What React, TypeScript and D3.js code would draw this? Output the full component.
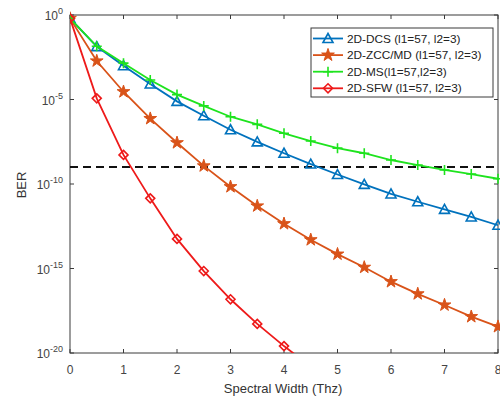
import React from "react";
import * as d3 from "d3";

const xValues = [0, 0.5, 1, 1.5, 2, 2.5, 3, 3.5, 4, 4.5, 5, 5.5, 6, 6.5, 7, 7.5, 8];
// log10(BER) values
const dcsLog = [-0.2, -1.87, -3.0, -4.08, -5.11, -5.96, -6.79, -7.51, -8.18, -8.82, -9.44, -10.02, -10.59, -11.05, -11.5, -11.95, -12.44];
const zccLog = [-0.2, -2.72, -4.54, -6.13, -7.56, -8.93, -10.16, -11.3, -12.35, -13.3, -14.15, -14.93, -15.78, -16.5, -17.16, -17.85, -18.44];
const msLog = [-0.2, -1.85, -2.85, -3.85, -4.71, -5.38, -6.02, -6.47, -7.0, -7.46, -7.88, -8.18, -8.58, -8.88, -9.17, -9.41, -9.69];
const sfwLog = [-0.2, -4.93, -8.28, -10.85, -13.25, -15.15, -16.82, -18.28, -19.59, -20.8];
const thresholdLog = -9;
const xTicks = [0, 1, 2, 3, 4, 5, 6, 7, 8];
const yTickExps = [0, -5, -10, -15, -20];
const seriesNames = ["2D-DCS (l1=57, l2=3)", "2D-ZCC/MD (l1=57, l2=3)", "2D-MS(l1=57,l2=3)", "2D-SFW (l1=57, l2=3)"];

const W = 500, H = 399;
const L = 70, R = 498, T = 15, B = 353;
const axisColor = "#3a3a3a";
const font = "Liberation Sans, Arial, sans-serif";

const series = [
  { name: seriesNames[0], vals: dcsLog, color: "#0072BD", marker: "triangle" },
  { name: seriesNames[1], vals: zccLog, color: "#D95319", marker: "star" },
  { name: seriesNames[2], vals: msLog, color: "#1EE31E", marker: "plus" },
  { name: seriesNames[3], vals: sfwLog, color: "#EE1A1A", marker: "diamond" },
];

function Marker({ type, x, y, color }: { type: string; x: number; y: number; color: string }) {
  if (type === "triangle") {
    const s = 5;
    return <path d={`M${x},${y - s}L${x + s},${y + s * 0.8}L${x - s},${y + s * 0.8}Z`} fill="none" stroke={color} strokeWidth={1.6} />;
  }
  if (type === "diamond") {
    const s = 4.5;
    return <path d={`M${x},${y - s}L${x + s},${y}L${x},${y + s}L${x - s},${y}Z`} fill="none" stroke={color} strokeWidth={1.6} />;
  }
  if (type === "plus") {
    const s = 5;
    return <path d={`M${x - s},${y}H${x + s}M${x},${y - s}V${y + s}`} fill="none" stroke={color} strokeWidth={1.6} />;
  }
  const star = d3.symbol(d3.symbolStar, 50)();
  return <path d={star || ""} transform={`translate(${x},${y})`} fill={color} stroke={color} strokeWidth={1} />;
}

export default function App() {
  const x = d3.scaleLinear().domain([0, 8]).range([L, R]);
  const y = d3.scaleLog().domain([1e-20, 1]).range([B, T]);
  const line = d3
    .line<number>()
    .x((_, i) => x(xValues[i]))
    .y((v) => y(Math.pow(10, v)));

  return (
    <svg width={W} height={H} style={{ position: "absolute", left: 0, top: 0, background: "#fff" }} fontFamily={font}>
      <defs>
        <clipPath id="plotclip">
          <rect x={L} y={T - 8} width={R - L + 8} height={B - T + 8} />
        </clipPath>
      </defs>
      <rect x={0} y={0} width={W} height={H} fill="#fff" />
      {/* axis box */}
      <rect x={L} y={T} width={R - L} height={B - T} fill="none" stroke={axisColor} strokeWidth={1} />
      {xTicks.map((t) => (
        <g key={"xt" + t}>
          <line x1={x(t)} x2={x(t)} y1={B} y2={B - 4} stroke={axisColor} />
          <line x1={x(t)} x2={x(t)} y1={T} y2={T + 4} stroke={axisColor} />
          <text x={x(t)} y={374} textAnchor="middle" fontSize={12} fill="#444">{t}</text>
        </g>
      ))}
      {yTickExps.map((e) => (
        <g key={"yt" + e}>
          <line x1={L} x2={L + 4} y1={y(Math.pow(10, e))} y2={y(Math.pow(10, e))} stroke={axisColor} />
          <line x1={R} x2={R - 4} y1={y(Math.pow(10, e))} y2={y(Math.pow(10, e))} stroke={axisColor} />
          <text x={63} y={y(Math.pow(10, e)) + 5} textAnchor="end" fontSize={12} fill="#444">
            10<tspan dy={-6} fontSize={9}>{e}</tspan>
          </text>
        </g>
      ))}
      <text x={283} y={393} textAnchor="middle" fontSize={13} fill="#333">Spectral Width (Thz)</text>
      <text transform={`translate(26,185) rotate(-90)`} textAnchor="middle" fontSize={13} fill="#333">BER</text>

      {/* threshold */}
      <line x1={x(0)} x2={x(8)} y1={y(Math.pow(10, thresholdLog))} y2={y(Math.pow(10, thresholdLog))} stroke="#111" strokeWidth={2} strokeDasharray="8,5" />

      <g clipPath="url(#plotclip)">
        {series.map((s) => (
          <g key={s.name}>
            <path d={line(s.vals) || ""} fill="none" stroke={s.color} strokeWidth={1.8} />
            {s.vals.map((v, i) =>
              y(Math.pow(10, v)) <= B + 1 ? (
                <Marker key={i} type={s.marker} x={x(xValues[i])} y={y(Math.pow(10, v))} color={s.color} />
              ) : null
            )}
          </g>
        ))}
      </g>

      {/* legend */}
      <g>
        <rect x={311} y={28} width={182} height={69} fill="#fff" stroke={axisColor} strokeWidth={1} />
        {series.map((s, i) => {
          const ly = 38.5 + i * 16.6;
          return (
            <g key={"lg" + i}>
              <line x1={313} x2={343} y1={ly} y2={ly} stroke={s.color} strokeWidth={1.8} />
              <Marker type={s.marker} x={328} y={ly} color={s.color} />
              <text x={347} y={ly + 4} fontSize={11.8} fill="#222">{s.name}</text>
            </g>
          );
        })}
      </g>
    </svg>
  );
}
